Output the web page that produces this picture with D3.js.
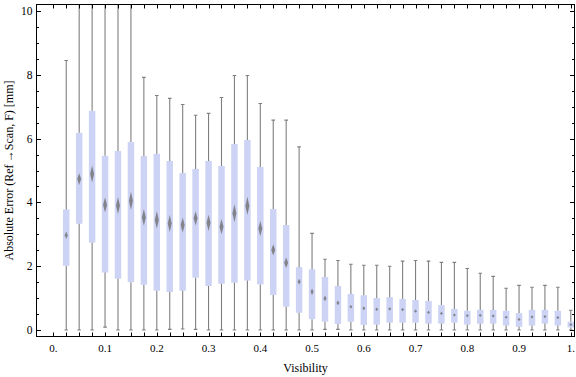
<!DOCTYPE html>
<html>
<head>
<meta charset="utf-8">
<script src="https://cdn.jsdelivr.net/npm/d3@7"></script>
<style>
  body { margin: 0; background: #fff; }
  text { font-family: "Liberation Serif", "Times New Roman", serif; fill: #000; }
</style>
</head>
<body>
<script>
// Bin centres (visibility) and the box statistics
var visibility = [0.025, 0.05, 0.075, 0.1, 0.125, 0.15, 0.175, 0.2, 0.225, 0.25,
                  0.275, 0.3, 0.325, 0.35, 0.375, 0.4, 0.425, 0.45, 0.475, 0.5,
                  0.525, 0.55, 0.575, 0.6, 0.625, 0.65, 0.675, 0.7, 0.725, 0.75,
                  0.775, 0.8, 0.825, 0.85, 0.875, 0.9, 0.925, 0.95, 0.975, 1.0];

var whiskerLow = [0, 0, 0, 0.09, 0, 0, 0, 0, 0.02, 0.03,
                  0.02, 0, 0, 0, 0, 0, 0, 0, 0, 0,
                  0.02, 0.02, 0, 0, 0, 0, 0, 0, 0, 0,
                  0, 0, 0, 0, 0, 0, 0, 0, 0, 0];

var quartile1 = [2.01, 3.33, 2.74, 1.80, 1.61, 1.50, 1.42, 1.23, 1.19, 1.23,
                 1.64, 1.38, 1.45, 1.48, 1.55, 1.43, 1.10, 0.73, 0.54, 0.34,
                 0.26, 0.19, 0.26, 0.16, 0.17, 0.23, 0.23, 0.23, 0.20, 0.20,
                 0.23, 0.17, 0.20, 0.20, 0.14, 0.10, 0.14, 0.20, 0.14, 0.08];

var medians = [2.97, 4.73, 4.89, 3.92, 3.90, 4.05, 3.53, 3.45, 3.34, 3.29,
               3.50, 3.36, 3.24, 3.66, 3.89, 3.18, 2.51, 2.11, 1.51, 1.20,
               0.99, 0.85, 0.73, 0.68, 0.65, 0.66, 0.64, 0.59, 0.55, 0.52,
               0.47, 0.45, 0.46, 0.44, 0.40, 0.33, 0.41, 0.42, 0.39, 0.17];

var quartile3 = [3.78, 6.18, 6.87, 5.46, 5.61, 5.89, 5.45, 5.52, 5.30, 4.92,
                 5.05, 5.30, 5.14, 5.83, 5.96, 5.11, 3.79, 3.29, 1.97, 1.90,
                 1.66, 1.38, 1.13, 1.09, 1.00, 1.03, 0.97, 0.94, 0.91, 0.78,
                 0.66, 0.60, 0.63, 0.63, 0.60, 0.53, 0.63, 0.63, 0.60, 0.26];

var whiskerHigh = [8.45, 12, 12, 12, 12, 12, 7.92, 7.35, 7.26, 7.07,
                   6.73, 6.79, 7.29, 7.98, 7.98, 7.10, 6.58, 6.58, 5.74, 3.03,
                   2.22, 2.18, 2.06, 2.03, 2.03, 2.00, 2.16, 2.18, 2.16, 2.12,
                   2.12, 1.93, 1.78, 1.68, 1.31, 1.40, 1.34, 1.40, 1.34, 0.62];

// Tick values and labels
var xTickValues = [0, 0.1, 0.2, 0.3, 0.4, 0.5, 0.6, 0.7, 0.8, 0.9, 1];
var xTickLabels = ["0.", "0.1", "0.2", "0.3", "0.4", "0.5", "0.6", "0.7", "0.8", "0.9", "1."];
var xMinorTicks = d3.range(0, 41).map(function(i) { return i * 0.025; });
var yTickValues = [0, 2, 4, 6, 8, 10];
var yMinorTicks = d3.range(0, 21).map(function(i) { return i * 0.5; }).filter(function(v) { return v % 2 !== 0; });

var xLabel = "Visibility",
    yLabel = "Absolute Error (Ref\u2009\u2192Scan, F) [mm]";

var data = visibility.map(function(v, i) {
  return {x: v, lo: whiskerLow[i], q1: quartile1[i], med: medians[i], q3: quartile3[i], hi: whiskerHigh[i]};
});

var width = 576, height = 377;
var frame = {left: 36.5, right: 574.5, top: 4.5, bottom: 336.5};

var svg = d3.select("body").append("svg")
    .attr("width", width)
    .attr("height", height);

// Scales
var x = d3.scaleLinear().domain([0, 1]).range([53.3, 570.8]);
var y = d3.scaleLinear().domain([0, 10]).range([330, 11]);
var boxWidth = x(0.0125) - x(0);

svg.append("clipPath").attr("id", "plot-clip")
  .append("rect")
    .attr("x", frame.left).attr("y", frame.top)
    .attr("width", frame.right - frame.left)
    .attr("height", frame.bottom - frame.top);

var plot = svg.append("g").attr("clip-path", "url(#plot-clip)");

// Boxes (interquartile range)
plot.selectAll(".box")
    .data(data)
    .enter().append("rect")
    .attr("class", "box")
    .attr("x", function(d) { return x(d.x) - boxWidth / 2; })
    .attr("y", function(d) { return y(d.q3); })
    .attr("width", boxWidth)
    .attr("height", function(d) { return y(d.q1) - y(d.q3); })
    .attr("fill", "#cdd3f4");

// Whiskers
var whiskerColor = "#7f7f7f";
plot.selectAll(".whisker-up")
    .data(data)
    .enter().append("line")
    .attr("x1", function(d) { return x(d.x); })
    .attr("x2", function(d) { return x(d.x); })
    .attr("y1", function(d) { return y(d.q3); })
    .attr("y2", function(d) { return y(d.hi); })
    .attr("stroke", whiskerColor)
    .attr("stroke-width", 1.1);

plot.selectAll(".whisker-down")
    .data(data)
    .enter().append("line")
    .attr("x1", function(d) { return x(d.x); })
    .attr("x2", function(d) { return x(d.x); })
    .attr("y1", function(d) { return y(d.q1); })
    .attr("y2", function(d) { return y(d.lo); })
    .attr("stroke", whiskerColor)
    .attr("stroke-width", 1.1);

// Whisker caps
["hi", "lo"].forEach(function(key) {
  plot.selectAll(".cap-" + key)
      .data(data)
      .enter().append("line")
      .attr("x1", function(d) { return x(d.x) - 1.8; })
      .attr("x2", function(d) { return x(d.x) + 1.8; })
      .attr("y1", function(d) { return y(d[key]); })
      .attr("y2", function(d) { return y(d[key]); })
      .attr("stroke", whiskerColor)
      .attr("stroke-width", 1.1);
});

// Median markers (diamonds sized by the box height)
plot.selectAll(".median")
    .data(data)
    .enter().append("path")
    .attr("d", function(d) {
      var cx = x(d.x), cy = y(d.med);
      var h = Math.max(1.6, (y(d.q1) - y(d.q3)) * 0.065);
      var w = Math.min(2, Math.max(1.5, h * 0.4));
      return "M" + cx + "," + (cy - h) + "L" + (cx + w) + "," + cy +
             "L" + cx + "," + (cy + h) + "L" + (cx - w) + "," + cy + "Z";
    })
    .attr("fill", "#707070")
    .attr("fill-opacity", 0.8);

// Frame
svg.append("rect")
    .attr("x", frame.left).attr("y", frame.top)
    .attr("width", frame.right - frame.left)
    .attr("height", frame.bottom - frame.top)
    .attr("fill", "none")
    .attr("stroke", "#000")
    .attr("stroke-width", 1);

// Ticks on the frame: bottom/top at every bin, left/right at each 0.5
var ticks = svg.append("g").attr("stroke", "#000").attr("stroke-width", 1);

xMinorTicks.forEach(function(v) {
  var px = Math.round(x(v)) + 0.5;
  ticks.append("line").attr("x1", px).attr("x2", px)
      .attr("y1", frame.bottom).attr("y2", frame.bottom - 4);
  ticks.append("line").attr("x1", px).attr("x2", px)
      .attr("y1", frame.top).attr("y2", frame.top + 4);
});

function yTick(v, len) {
  var py = Math.round(y(v)) + 0.5;
  ticks.append("line").attr("x1", frame.left).attr("x2", frame.left + len)
      .attr("y1", py).attr("y2", py);
  ticks.append("line").attr("x1", frame.right).attr("x2", frame.right - len)
      .attr("y1", py).attr("y2", py);
}
yTickValues.forEach(function(v) { yTick(v, 4.5); });
yMinorTicks.forEach(function(v) { yTick(v, 2.5); });

// Tick labels
svg.selectAll(".xlabel")
    .data(xTickValues)
    .enter().append("text")
    .attr("x", function(d) { return x(d); })
    .attr("y", 351.5)
    .attr("text-anchor", "middle")
    .attr("font-size", 11)
    .text(function(d, i) { return xTickLabels[i]; });

svg.selectAll(".ylabel")
    .data(yTickValues)
    .enter().append("text")
    .attr("x", 32.5)
    .attr("y", function(d) { return y(d) + 4; })
    .attr("text-anchor", "end")
    .attr("font-size", 11.5)
    .text(function(d) { return d; });

// Axis labels
svg.append("text")
    .attr("text-anchor", "middle")
    .attr("x", (frame.left + frame.right) / 2)
    .attr("y", 372)
    .attr("font-size", 12)
    .text(xLabel);

svg.append("text")
    .attr("text-anchor", "middle")
    .attr("transform", "rotate(-90)")
    .attr("x", -(frame.top + frame.bottom) / 2)
    .attr("y", 12.5)
    .attr("font-size", 12)
    .text(yLabel);
</script>
</body>
</html>
